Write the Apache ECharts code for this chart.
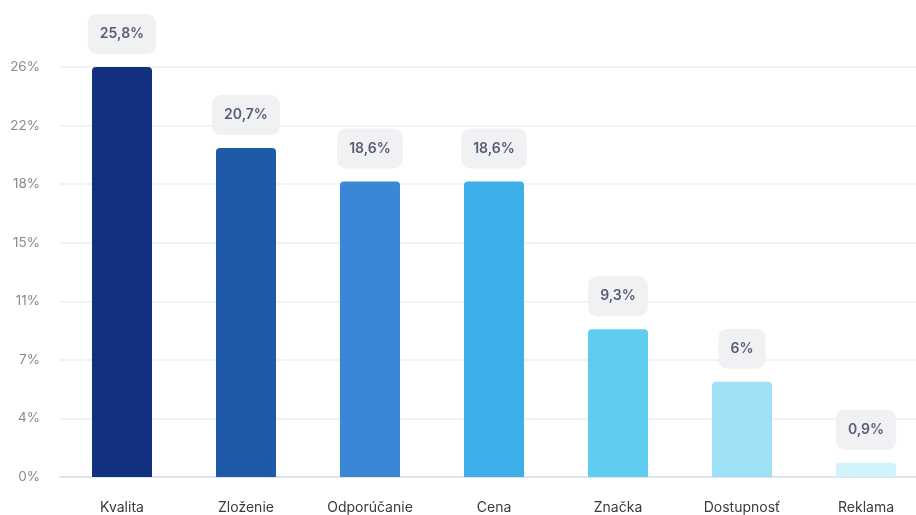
<!DOCTYPE html>
<html>
<head>
<meta charset="utf-8">
<script src="https://cdn.jsdelivr.net/npm/echarts@6/dist/echarts.min.js"></script>
<style>
  html, body { margin: 0; padding: 0; background: #fff; }
  #chart { width: 916px; height: 515px; }
</style>
</head>
<body>
<div id="chart"></div>
<script>
/* Dôvody nákupu - stĺpcový graf */

const categories = ['Kvalita', 'Zloženie', 'Odporúčanie', 'Cena', 'Značka', 'Dostupnosť', 'Reklama'];
const values = [25.8, 20.7, 18.6, 18.6, 9.3, 6, 0.9];
const barColors = ['#11307f', '#1f5aa9', '#3a87d7', '#3daee7', '#5fcdf0', '#9ee1f6', '#d3f3fb'];

const yMax = 25.8;
const ySteps = 7;

const chart = echarts.init(document.getElementById('chart'));
chart.setOption({
    animation: false,
    textStyle: { fontFamily: 'Inter, "Noto Sans", sans-serif' },
    grid: { left: 60, width: 868, top: 67, bottom: 38, outerBoundsMode: 'none' },
    xAxis: {
        type: 'category',
        data: categories,
        axisLine: { lineStyle: { color: '#dde3ef', width: 2 } },
        axisTick: { show: false },
        axisLabel: { color: '#3a3a3a', fontSize: 14, margin: 24 },
    },
    yAxis: {
        type: 'value',
        min: 0, max: yMax,
        interval: yMax / ySteps,
        axisLine: { show: false },
        axisTick: { show: false },
        splitLine: { lineStyle: { color: '#eeeff2', width: 1.5 } },
        axisLabel: {
            color: '#8a8a8a', fontSize: 13.5, margin: 20,
            formatter: v => Math.round(v) + '%',
        },
    },
    series: [{
        type: 'bar',
        barWidth: 60,
        data: values.map((v, i) => ({ value: v, itemStyle: { color: barColors[i] } })),
        itemStyle: { borderRadius: [4, 4, 0, 0] },
        label: {
            show: true,
            position: 'top',
            distance: 13,
            formatter: p => String(p.value).replace('.', ',') + '%',
            color: '#5b5a78',
            fontSize: 14,
            fontWeight: 600,
            backgroundColor: '#f0f1f2',
            borderRadius: 9,
            padding: [13, 12, 13, 12],
        },
    }],
}, true);
</script>
</body>
</html>
